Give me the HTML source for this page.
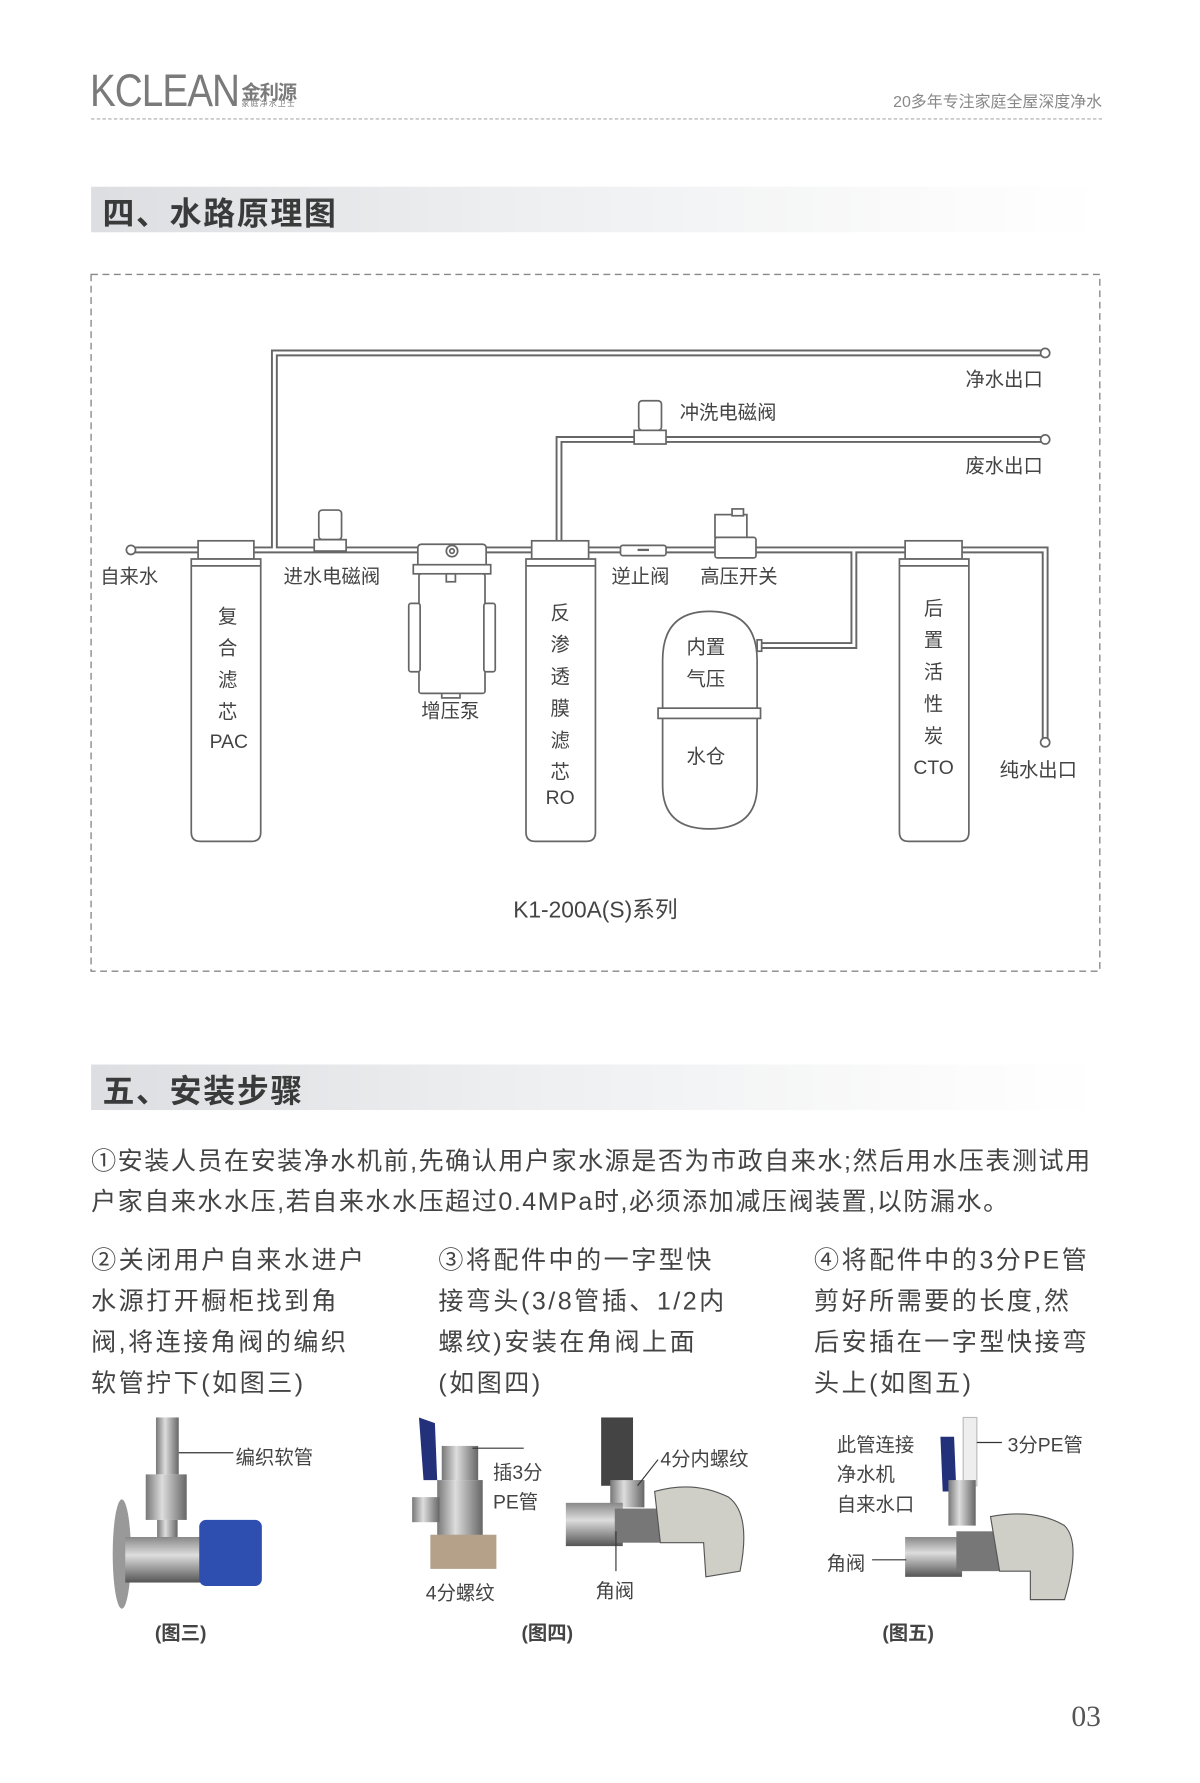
<!DOCTYPE html>
<html><head><meta charset="utf-8">
<style>
html,body{margin:0;padding:0;background:#fff;}
body{width:1200px;height:1783px;overflow:hidden;position:relative;}
#w{position:absolute;left:0;top:0;width:1054px;height:1566px;transform:scale(1.13852);transform-origin:0 0;font-family:"Liberation Sans","Noto Sans CJK SC",sans-serif;color:#444;}
.a{position:absolute;white-space:nowrap;}
.hdr{position:absolute;left:80px;width:888px;height:40px;background:linear-gradient(90deg,#dcdee1 0%,#eceef0 40%,#fafafa 80%,#fff 100%);}
.hdr span{position:absolute;left:10px;top:2px;font-size:28px;font-weight:bold;color:#3a3a3a;letter-spacing:1.5px;}
.col{position:absolute;top:1089px;font-size:22px;line-height:36px;color:#444;letter-spacing:2.2px;white-space:nowrap;}
.cap{position:absolute;font-size:17px;font-weight:bold;color:#444;}
.lb{position:absolute;font-size:17px;color:#444;white-space:nowrap;}
</style></head><body><div id="w">
<div class="a" style="left:79px;top:58px;font-size:40px;color:#7a7a7a;letter-spacing:-1px;transform:scaleX(0.85);transform-origin:0 0;">KCLEAN</div>
<div class="a" style="left:212px;top:67px;font-size:17px;font-weight:bold;color:#7a7a7a;letter-spacing:-1px;">金利源</div>
<div class="a" style="left:212px;top:86px;font-size:7px;color:#7a7a7a;letter-spacing:1px;">家庭净水卫士</div>
<div class="a" style="right:86px;top:79px;font-size:14px;color:#888;">20多年专注家庭全屋深度净水</div>
<div class="a" style="left:80px;top:104px;width:888px;border-top:1px dashed #aaa;"></div>

<div class="hdr" style="top:164px;"><span>四、水路原理图</span></div>

<svg class="a" style="left:0;top:0" width="1054" height="900" viewBox="0 0 1054 900">
<rect x="80" y="241" width="886" height="612" fill="none" stroke="#888" stroke-width="1.2" stroke-dasharray="6,4"/>
<g fill="none" stroke-linejoin="miter">
 <g stroke="#666" stroke-width="6">
  <path d="M115 483 H918 V652"/>
  <path d="M241 483 V310 H918"/>
  <path d="M491 475 V386 H918"/>
  <path d="M750 483 V567 H665"/>
 </g>
 <g stroke="#fff" stroke-width="2.6">
  <path d="M115 483 H918 V652"/>
  <path d="M241 483 V310 H918"/>
  <path d="M491 475 V386 H918"/>
  <path d="M750 483 V567 H665"/>
 </g>
</g>
<g fill="#fff" stroke="#666" stroke-width="1.5">
 <circle cx="115" cy="483" r="4"/><circle cx="918" cy="310" r="4"/><circle cx="918" cy="386" r="4"/><circle cx="918" cy="652" r="4"/>
 <rect x="174" y="475" width="49" height="16"/>
 <path d="M168 491 H229 V731 Q229 739 221 739 H176 Q168 739 168 731 Z"/>
 <line x1="168" y1="497" x2="229" y2="497"/>
 <rect x="467" y="475" width="50" height="16"/>
 <path d="M462 491 H523 V731 Q523 739 515 739 H470 Q462 739 462 731 Z"/>
 <line x1="462" y1="497" x2="523" y2="497"/>
 <rect x="795" y="475" width="50" height="16"/>
 <path d="M790 491 H851 V731 Q851 739 843 739 H798 Q790 739 790 731 Z"/>
 <line x1="790" y1="497" x2="851" y2="497"/>
 <path d="M582 580 Q582 537 623 537 Q665 537 665 580 V690 Q665 728 623 728 Q582 728 582 690 Z"/>
 <rect x="578" y="622" width="90" height="9"/>
 <rect x="665" y="562" width="4" height="10"/>
 <rect x="367" y="478" width="60" height="22" rx="3"/>
 <circle cx="397" cy="484" r="5"/><circle cx="397" cy="484" r="2"/>
 <rect x="363" y="496" width="68" height="8"/>
 <rect x="368" y="504" width="58" height="105" rx="2"/>
 <rect x="359" y="530" width="10" height="60" rx="2"/>
 <rect x="425" y="530" width="10" height="60" rx="2"/>
 <rect x="392" y="504" width="8" height="7"/>
 <rect x="388" y="609" width="16" height="4"/>
 <rect x="280" y="448" width="20" height="26" rx="3"/>
 <rect x="276" y="474" width="28" height="10"/>
 <rect x="561" y="352" width="20" height="26" rx="3"/>
 <rect x="557" y="378" width="28" height="12"/>
 <rect x="545" y="479" width="40" height="9" rx="2"/>
 <rect x="628" y="452" width="28" height="20"/>
 <rect x="643" y="447" width="10" height="6"/>
 <rect x="628" y="472" width="36" height="18" rx="2"/>
</g>
<path d="M560 483 H570" stroke="#666" stroke-width="2"/>
<g font-family="Liberation Sans,Noto Sans CJK SC,sans-serif" font-size="17" fill="#444">
 <text x="88" y="512">自来水</text>
 <text x="249" y="512">进水电磁阀</text>
 <text x="537" y="512">逆止阀</text>
 <text x="615" y="512">高压开关</text>
 <text x="370" y="630">增压泵</text>
 <text x="597" y="368">冲洗电磁阀</text>
 <text x="848" y="339">净水出口</text>
 <text x="848" y="415">废水出口</text>
 <text x="878" y="682">纯水出口</text>
 <text x="603" y="574">内置</text>
 <text x="603" y="602">气压</text>
 <text x="603" y="670">水仓</text>
 <g text-anchor="middle">
  <text x="200" y="547">复</text><text x="200" y="575">合</text><text x="200" y="603">滤</text><text x="200" y="631">芯</text><text x="201" y="657">PAC</text>
  <text x="492" y="544">反</text><text x="492" y="572">渗</text><text x="492" y="600">透</text><text x="492" y="628">膜</text><text x="492" y="656">滤</text><text x="492" y="684">芯</text><text x="492" y="706">RO</text>
  <text x="820" y="540">后</text><text x="820" y="568">置</text><text x="820" y="596">活</text><text x="820" y="624">性</text><text x="820" y="652">炭</text><text x="820" y="680">CTO</text>
  <text x="523" y="806" font-size="20">K1-200A(S)系列</text>
 </g>
</g>
</svg>

<div class="hdr" style="top:935px;"><span>五、安装步骤</span></div>

<div class="a" style="left:80px;top:1002px;font-size:22px;line-height:36px;color:#444;letter-spacing:1.35px;">①安装人员在安装净水机前,先确认用户家水源是否为市政自来水;然后用水压表测试用<br>户家自来水水压,若自来水水压超过0.4MPa时,必须添加减压阀装置,以防漏水。</div>

<div class="col" style="left:80px;">②关闭用户自来水进户<br>水源打开橱柜找到角<br>阀,将连接角阀的编织<br>软管拧下(如图三)</div>
<div class="col" style="left:385px;">③将配件中的一字型快<br>接弯头(3/8管插、1/2内<br>螺纹)安装在角阀上面<br>(如图四)</div>
<div class="col" style="left:715px;">④将配件中的3分PE管<br>剪好所需要的长度,然<br>后安插在一字型快接弯<br>头上(如图五)</div>

<svg class="a" style="left:0;top:1230px" width="1054" height="200" viewBox="0 1230 1054 200">
<defs>
 <linearGradient id="m" x1="0" x2="1"><stop offset="0" stop-color="#777"/><stop offset=".4" stop-color="#ddd"/><stop offset="1" stop-color="#666"/></linearGradient>
 <linearGradient id="mv" x1="0" x2="0" y1="0" y2="1"><stop offset="0" stop-color="#888"/><stop offset=".4" stop-color="#ddd"/><stop offset="1" stop-color="#555"/></linearGradient>
</defs>
<rect x="137" y="1245" width="20" height="50" fill="url(#m)"/>
<rect x="128" y="1295" width="36" height="40" fill="url(#m)"/>
<rect x="138" y="1335" width="18" height="20" fill="url(#m)"/>
<ellipse cx="107" cy="1365" rx="8" ry="48" fill="#999"/>
<rect x="110" y="1350" width="75" height="40" fill="url(#mv)"/>
<rect x="175" y="1335" width="55" height="58" rx="6" fill="#2f4fb0"/>
<line x1="157" y1="1276" x2="205" y2="1276" stroke="#333"/>
<path d="M368 1245 L382 1250 L384 1300 L372 1300 Z" fill="#23307a"/>
<rect x="388" y="1270" width="32" height="30" fill="url(#m)"/>
<rect x="384" y="1300" width="40" height="50" fill="url(#m)"/>
<rect x="362" y="1315" width="24" height="22" fill="url(#m)"/>
<rect x="378" y="1348" width="58" height="30" fill="#b5a08a"/>
<line x1="415" y1="1272" x2="460" y2="1272" stroke="#333"/>
<rect x="528" y="1245" width="28" height="60" fill="#444"/>
<rect x="536" y="1300" width="30" height="24" fill="url(#m)"/>
<rect x="497" y="1320" width="50" height="38" fill="url(#mv)"/>
<rect x="540" y="1325" width="40" height="30" fill="#777"/>
<path d="M575 1310 Q610 1300 640 1315 Q660 1330 650 1380 L620 1385 L618 1355 L580 1355 Z" fill="#cfcfc8" stroke="#555"/>
<line x1="541" y1="1345" x2="541" y2="1380" stroke="#333"/>
<line x1="560" y1="1305" x2="578" y2="1282" stroke="#333"/>
<rect x="846" y="1245" width="12" height="60" fill="#eee" stroke="#bbb"/>
<path d="M826 1262 L838 1262 L840 1310 L828 1310 Z" fill="#23307a"/>
<rect x="833" y="1300" width="24" height="40" fill="url(#m)"/>
<rect x="795" y="1350" width="50" height="35" fill="url(#mv)"/>
<rect x="840" y="1345" width="40" height="35" fill="#777"/>
<path d="M870 1332 Q910 1325 935 1340 Q950 1355 935 1405 L905 1405 L905 1380 L878 1380 Z" fill="#cfcfc8" stroke="#555"/>
<line x1="858" y1="1267" x2="880" y2="1267" stroke="#333"/>
<line x1="766" y1="1370" x2="796" y2="1370" stroke="#333"/>
</svg>
<div class="lb" style="left:207px;top:1266px;">编织软管</div>
<div class="lb" style="left:433px;top:1279px;">插3分</div>
<div class="lb" style="left:433px;top:1305px;">PE管</div>
<div class="lb" style="left:580px;top:1267px;">4分内螺纹</div>
<div class="lb" style="left:374px;top:1385px;">4分螺纹</div>
<div class="lb" style="left:523px;top:1383px;">角阀</div>
<div class="lb" style="left:735px;top:1255px;">此管连接</div>
<div class="lb" style="left:735px;top:1281px;">净水机</div>
<div class="lb" style="left:735px;top:1307px;">自来水口</div>
<div class="lb" style="left:885px;top:1255px;">3分PE管</div>
<div class="lb" style="left:726px;top:1359px;">角阀</div>
<div class="cap" style="left:136px;top:1420px;">(图三)</div>
<div class="cap" style="left:458px;top:1420px;">(图四)</div>
<div class="cap" style="left:775px;top:1420px;">(图五)</div>

<div class="a" style="left:941px;top:1493px;font-family:'Liberation Serif',serif;font-size:26px;color:#555;">03</div>
</div></body></html>
